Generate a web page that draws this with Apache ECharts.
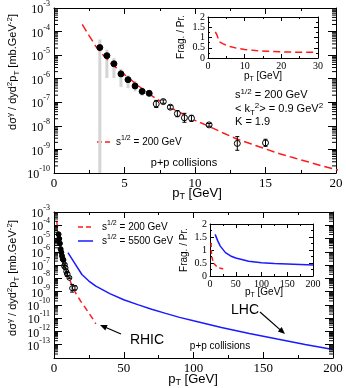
<!DOCTYPE html>
<html>
<head>
<meta charset="utf-8">
<script src="https://cdn.jsdelivr.net/npm/echarts@6/dist/echarts.min.js"></script>
<style>
  html, body { margin: 0; padding: 0; background: #fff; }
  #chart { width: 346px; height: 388px; }
</style>
</head>
<body>
<div id="chart"></div>
<script>
// --- measured p+p photons, sqrt(s) = 200 GeV ---
const dataPt = [3.25, 3.75, 4.25, 4.75, 5.25, 5.75, 6.25, 6.75, 7.25, 7.75, 8.25, 8.75, 9.25, 9.75, 11, 13, 15];
const dataYield = [2.1e-5, 9.5e-6, 4.3e-6, 1.6e-6, 9.1e-7, 4.9e-7, 2.9e-7, 2.4e-7, 8.5e-8, 1.07e-7, 6.2e-8, 3.3e-8, 2.2e-8, 2.1e-8, 1.1e-8, 1.8e-9, 1.9e-9];
const statLow = [null, null, null, null, null, null, null, null, 6.0e-8, 9.1e-8, 5.2e-8, 2.45e-8, 1.42e-8, 1.55e-8, 9.6e-9, 9.2e-10, 1.35e-9];
const statHigh = [null, null, null, null, null, null, null, null, 1.2e-7, 1.26e-7, 7.4e-8, 4.45e-8, 3.4e-8, 2.8e-8, 1.26e-8, 3.5e-9, 2.7e-9];
const sysLow = [1e-11, 1.07e-6, 1.07e-6, 4.5e-7, 4.0e-7, 2.9e-7, 1.9e-7, 1.8e-7];
const sysHigh = [4.6e-5, 1.7e-5, 7.4e-6, 2.6e-6, 1.4e-6, 8.0e-7, 4.2e-7, 3.2e-7];

// --- calculations ---
const rhicPt = [2, 2.5, 3, 3.5, 4, 5, 6, 7, 8, 9, 10, 11, 12, 13, 14, 15, 16, 17, 18, 19, 20, 22, 24, 26, 28, 30];
const rhicYield = [2.0e-4, 6.6e-5, 2.2e-5, 1.0e-5, 4.7e-6, 1.5e-6, 4.9e-7, 1.8e-7, 7.2e-8, 3.5e-8, 1.7e-8, 9.5e-9, 5.0e-9, 2.7e-9, 1.7e-9, 1.05e-9, 6.6e-10, 4.4e-10, 3.0e-10, 2.0e-10, 1.4e-10, 7.1e-11, 3.5e-11, 1.7e-11, 8.3e-12, 3.8e-12];
const lhcPt = [10, 15, 20, 25, 30, 40, 50, 60, 70, 80, 90, 100, 120, 140, 160, 180, 200];
const lhcYield = [8.7e-7, 1.3e-7, 1.95e-8, 6.3e-9, 2.6e-9, 7.1e-10, 2.45e-10, 1.05e-10, 4.7e-11, 2.3e-11, 1.15e-11, 6.3e-12, 2.0e-12, 7.1e-13, 2.7e-13, 1.05e-13, 4.4e-14];

// --- fragmentation / prompt ratio ---
const ratioRhicPt = [2, 2.5, 3, 3.5, 4, 5, 6, 8, 10, 13, 16, 20, 25, 29.5];
const ratioRhic = [1.27, 1.1, 0.8, 0.76, 0.7, 0.62, 0.56, 0.47, 0.42, 0.36, 0.33, 0.3, 0.28, 0.28];
const ratioLhcPt = [10, 15, 20, 30, 40, 50, 75, 100, 125, 150, 175, 200];
const ratioLhc = [1.6, 1.35, 1.15, 0.9, 0.77, 0.69, 0.57, 0.51, 0.48, 0.46, 0.44, 0.42];

const SERIF = 'Liberation Serif, DejaVu Serif, serif';
const SANS = 'Liberation Sans, Arial, sans-serif';
const RED = '#ff1a1a';
const BLUE = '#1a1aff';

const zip = (xs, ys) => xs.map((x, i) => [x, ys[i]]);
const supRich = {
  b: { fontSize: 12, fontFamily: SERIF, color: '#000', verticalAlign: 'bottom', lineHeight: 16 },
  s: { fontSize: 8, fontFamily: SERIF, color: '#000', verticalAlign: 'top', lineHeight: 16 }
};
const txtRich = (size) => ({
  s: { fontSize: Math.round(size * 0.7), fontFamily: SANS, color: '#000', verticalAlign: 'top', lineHeight: size + 4 },
  u: { fontSize: Math.round(size * 0.7), fontFamily: SANS, color: '#000', verticalAlign: 'bottom', lineHeight: size + 4 },
  n: { fontSize: size, fontFamily: SANS, color: '#000', lineHeight: size + 4 }
});

// minor log ticks (2..9 per decade)
function logMinors(lo, hi) {
  const out = [];
  for (let e = lo; e < hi; e++) {
    for (let k = 2; k <= 9; k++) out.push(k * Math.pow(10, e));
  }
  return out;
}

function mainX(grid, min, max, interval, top) {
  return {
    gridIndex: grid, type: 'value', min: min, max: max, interval: interval,
    position: top ? 'top' : 'bottom',
    axisLine: { show: true, onZero: false, lineStyle: { color: '#000', width: 1 } },
    axisTick: { show: true, inside: true, length: 6, lineStyle: { color: '#000' } },
    minorTick: { show: true, splitNumber: 2, length: 3, lineStyle: { color: '#000' } },
    splitLine: { show: false },
    axisLabel: { show: !top, fontFamily: SERIF, fontSize: 13, color: '#000', margin: 4 }
  };
}
function mainY(grid, min, max, right) {
  return {
    gridIndex: grid, type: 'log', logBase: 10, min: min, max: max, interval: 1,
    position: right ? 'right' : 'left',
    axisLine: { show: true, onZero: false, lineStyle: { color: '#000', width: 1 } },
    axisTick: { show: true, inside: true, length: 8, lineStyle: { color: '#000' } },
    splitLine: { show: false },
    axisLabel: {
      show: !right, margin: 4,
      formatter: v => '{b|10}{s|' + Math.round(Math.log10(v)) + '}',
      rich: supRich
    }
  };
}
function insetX(grid, max, interval, top) {
  return {
    gridIndex: grid, type: 'value', min: 0, max: max, interval: interval,
    position: top ? 'top' : 'bottom',
    axisLine: { show: true, onZero: false, lineStyle: { color: '#000', width: 1 } },
    axisTick: { show: true, inside: true, length: 4, lineStyle: { color: '#000' } },
    minorTick: { show: true, splitNumber: 2, length: 2, lineStyle: { color: '#000' } },
    splitLine: { show: false },
    axisLabel: { show: !top, fontFamily: SERIF, fontSize: 10, color: '#000', margin: 3 }
  };
}
function insetY(grid, right) {
  return {
    gridIndex: grid, type: 'value', min: 0, max: 2, interval: 0.5,
    position: right ? 'right' : 'left',
    axisLine: { show: true, onZero: false, lineStyle: { color: '#000', width: 1 } },
    axisTick: { show: true, inside: true, length: 4, lineStyle: { color: '#000' } },
    minorTick: { show: true, splitNumber: 2, length: 2, lineStyle: { color: '#000' } },
    splitLine: { show: false },
    axisLabel: { show: !right, fontFamily: SERIF, fontSize: 10, color: '#000', margin: 3 }
  };
}

function minorTickItem(params, api) {
  const cs = params.coordSys;
  const y = api.coord([api.value(0), api.value(1)])[1];
  const s = { stroke: '#000', lineWidth: 1 };
  return { type: 'group', children: [
    { type: 'line', shape: { x1: cs.x, y1: y, x2: cs.x + 4, y2: y }, style: s },
    { type: 'line', shape: { x1: cs.x + cs.width, y1: y, x2: cs.x + cs.width - 4, y2: y }, style: s }
  ] };
}
function statBarItem(params, api) {
  const lo = api.coord([api.value(0), api.value(1)]);
  const hi = api.coord([api.value(0), api.value(2)]);
  const s = { stroke: '#000', lineWidth: 1 };
  return { type: 'group', children: [
    { type: 'line', shape: { x1: lo[0], y1: lo[1], x2: hi[0], y2: hi[1] }, style: s },
    { type: 'line', shape: { x1: lo[0] - 2, y1: lo[1], x2: lo[0] + 2, y2: lo[1] }, style: s },
    { type: 'line', shape: { x1: hi[0] - 2, y1: hi[1], x2: hi[0] + 2, y2: hi[1] }, style: s }
  ] };
}
function sysBarItem(params, api) {
  const lo = api.coord([api.value(0), api.value(1)]);
  const hi = api.coord([api.value(0), api.value(2)]);
  return { type: 'rect', shape: { x: lo[0] - 1.5, y: hi[1], width: 3, height: lo[1] - hi[1] },
    style: { fill: '#d4d4d4' } };
}

const statData = dataPt.map((x, i) => [x, statLow[i], statHigh[i]]).filter(d => d[1] != null);
const sysData = sysLow.map((lo, i) => [dataPt[i], lo, sysHigh[i]]);
const pointData = dataPt.map((x, i) => ({ value: [x, dataYield[i]], itemStyle: { color: i < 8 ? '#000' : '#fff' } }));

const label200 = '{n|s}{s|1/2}{n| = 200 GeV}';
const label5500 = '{n|s}{s|1/2}{n| = 5500 GeV}';

const chart = echarts.init(document.getElementById('chart'));
chart.setOption({
  animation: false,
  backgroundColor: '#fff',
  grid: [
    { left: 54, top: 6, width: 282, height: 167 },
    { left: 208, top: 17, width: 110, height: 41, show: true, backgroundColor: '#fff', borderWidth: 0 },
    { left: 54, top: 212, width: 279, height: 146 },
    { left: 210, top: 224, width: 103, height: 52, show: true, backgroundColor: '#fff', borderWidth: 0 }
  ],
  xAxis: [
    mainX(0, 0, 20, 5, false), mainX(0, 0, 20, 5, true),
    insetX(1, 30, 10, false), insetX(1, 30, 10, true),
    mainX(2, 0, 200, 50, false), mainX(2, 0, 200, 50, true),
    insetX(3, 200, 50, false), insetX(3, 200, 50, true)
  ],
  yAxis: [
    mainY(0, 1e-10, 1e-3, false), mainY(0, 1e-10, 1e-3, true),
    insetY(1, false), insetY(1, true),
    mainY(2, 1e-14, 1e-3, false), mainY(2, 1e-14, 1e-3, true),
    insetY(3, false), insetY(3, true)
  ],
  series: [
    { type: 'custom', xAxisIndex: 0, yAxisIndex: 0, renderItem: sysBarItem, data: sysData,
      encode: { x: 0, y: [1, 2] }, clip: true, silent: true, z: 1 },
    { name: 'rhic', type: 'line', xAxisIndex: 0, yAxisIndex: 0, data: zip(rhicPt, rhicYield),
      symbol: 'none', lineStyle: { color: RED, width: 1.5, type: [8, 4] }, z: 2 },
    { type: 'scatter', xAxisIndex: 0, yAxisIndex: 0, data: pointData, symbolSize: 6,
      itemStyle: { borderColor: '#000', borderWidth: 1, opacity: 1 }, z: 3 },
    { type: 'custom', xAxisIndex: 0, yAxisIndex: 0, renderItem: statBarItem, data: statData,
      encode: { x: 0, y: [1, 2] }, silent: true, z: 4 },
    { type: 'custom', xAxisIndex: 0, yAxisIndex: 0, renderItem: minorTickItem,
      data: logMinors(-10, -3).map(v => [0, v]), silent: true, z: 5 },

    { name: 'ratioRhic', type: 'line', xAxisIndex: 2, yAxisIndex: 2, data: zip(ratioRhicPt, ratioRhic),
      symbol: 'none', lineStyle: { color: RED, width: 1.5, type: [7, 4] }, z: 6 },

    { name: 'rhic', type: 'line', xAxisIndex: 4, yAxisIndex: 4, data: zip(rhicPt, rhicYield),
      symbol: 'none', lineStyle: { color: RED, width: 1.5, type: [6, 4] }, z: 2 },
    { name: 'lhc', type: 'line', xAxisIndex: 4, yAxisIndex: 4, data: zip(lhcPt, lhcYield),
      symbol: 'none', lineStyle: { color: BLUE, width: 1.5 }, z: 2 },
    { type: 'scatter', xAxisIndex: 4, yAxisIndex: 4, data: pointData, symbolSize: 5,
      itemStyle: { borderColor: '#000', borderWidth: 1, opacity: 1 }, z: 3 },
    { type: 'custom', xAxisIndex: 4, yAxisIndex: 4, renderItem: statBarItem, data: statData,
      encode: { x: 0, y: [1, 2] }, silent: true, z: 4 },
    { type: 'custom', xAxisIndex: 4, yAxisIndex: 4, renderItem: minorTickItem,
      data: logMinors(-14, -3).map(v => [0, v]), silent: true, z: 5 },

    { name: 'ratioRhic', type: 'line', xAxisIndex: 6, yAxisIndex: 6, data: zip(ratioRhicPt, ratioRhic),
      symbol: 'none', lineStyle: { color: RED, width: 1.5, type: [4, 3] }, z: 6 },
    { name: 'ratioLhc', type: 'line', xAxisIndex: 6, yAxisIndex: 6, data: zip(ratioLhcPt, ratioLhc),
      symbol: 'none', lineStyle: { color: BLUE, width: 1.5 }, z: 6 }
  ],
  graphic: [
    // legends
    { type: 'rect', shape: { x: 94, y: 131, width: 84, height: 21 }, style: { fill: '#fff' } },
    { type: 'line', shape: { x1: 97, y1: 142, x2: 111, y2: 142 }, style: { stroke: RED, lineWidth: 1.5, lineDash: [5, 3] } },
    { type: 'text', x: 116, y: 142,
      style: { text: label200, rich: txtRich(10), align: 'left', verticalAlign: 'middle' } },
    { type: 'line', shape: { x1: 78, y1: 227, x2: 93, y2: 227 }, style: { stroke: RED, lineWidth: 1.5, lineDash: [5, 3] } },
    { type: 'text', x: 102, y: 227,
      style: { text: label200, rich: txtRich(10), align: 'left', verticalAlign: 'middle' } },
    { type: 'line', shape: { x1: 78, y1: 241, x2: 93, y2: 241 }, style: { stroke: BLUE, lineWidth: 1.5 } },
    { type: 'text', x: 102, y: 241,
      style: { text: label5500, rich: txtRich(10), align: 'left', verticalAlign: 'middle' } },
    // y titles
    { type: 'text', x: 13, y: 72, rotation: Math.PI / 2,
      style: { text: '{n|d\u03c3}{s|\u03b3}{n| / dyd}{s|2}{n|p}{u|T}{n| [mb.GeV}{s|-2}{n|]}', rich: txtRich(11),
        align: 'center', verticalAlign: 'middle' } },
    { type: 'text', x: 13, y: 278, rotation: Math.PI / 2,
      style: { text: '{n|d\u03c3}{s|\u03b3}{n| / dyd}{s|2}{n|p}{u|T}{n| [mb.GeV}{s|-2}{n|]}', rich: txtRich(11),
        align: 'center', verticalAlign: 'middle' } },
    // x titles
    { type: 'text', x: 197, y: 193,
      style: { text: '{n|p}{u|T}{n| [GeV]}', rich: txtRich(13), align: 'center', verticalAlign: 'middle' } },
    { type: 'text', x: 193, y: 379,
      style: { text: '{n|p}{u|T}{n| [GeV]}', rich: txtRich(13), align: 'center', verticalAlign: 'middle' } },
    // inset titles
    { type: 'text', x: 181, y: 37, rotation: Math.PI / 2,
      style: { text: '{n|Frag. / Pr.}', rich: txtRich(10), align: 'center', verticalAlign: 'middle' } },
    { type: 'text', x: 263, y: 76,
      style: { text: '{n|p}{u|T}{n| [GeV]}', rich: txtRich(10), align: 'center', verticalAlign: 'middle' } },
    { type: 'text', x: 184, y: 250, rotation: Math.PI / 2,
      style: { text: '{n|Frag. / Pr.}', rich: txtRich(10), align: 'center', verticalAlign: 'middle' } },
    { type: 'text', x: 264, y: 292,
      style: { text: '{n|p}{u|T}{n| [GeV]}', rich: txtRich(10), align: 'center', verticalAlign: 'middle' } },
    // annotations top
    { type: 'text', x: 235, y: 95,
      style: { text: '{n|s}{s|1/2}{n| = 200 GeV}', rich: txtRich(11), align: 'left', verticalAlign: 'middle' } },
    { type: 'text', x: 235, y: 109,
      style: { text: '{n|< k}{u|T}{s|2}{n|> = 0.9 GeV}{s|2}', rich: txtRich(11), align: 'left', verticalAlign: 'middle' } },
    { type: 'text', x: 235, y: 122,
      style: { text: '{n|K = 1.9}', rich: txtRich(11), align: 'left', verticalAlign: 'middle' } },
    { type: 'text', x: 184, y: 163,
      style: { text: '{n|p+p collisions}', rich: txtRich(11), align: 'center', verticalAlign: 'middle' } },
    // annotations bottom
    { type: 'text', x: 220, y: 346,
      style: { text: '{n|p+p collisions}', rich: txtRich(10), align: 'center', verticalAlign: 'middle' } },
    { type: 'text', x: 147, y: 340,
      style: { text: '{n|RHIC}', rich: txtRich(14), align: 'center', verticalAlign: 'middle' } },
    { type: 'text', x: 245, y: 310,
      style: { text: '{n|LHC}', rich: txtRich(14), align: 'center', verticalAlign: 'middle' } },
    { type: 'line', shape: { x1: 121, y1: 334, x2: 103, y2: 326.3 }, style: { stroke: '#000', lineWidth: 1.2 } },
    { type: 'polygon', shape: { points: [[100, 325], [107.6, 325.0], [105.3, 330.5]] }, style: { fill: '#000' } },
    { type: 'line', shape: { x1: 260, y1: 312, x2: 282, y2: 331.4 }, style: { stroke: '#000', lineWidth: 1.2 } },
    { type: 'polygon', shape: { points: [[285, 334], [277.8, 331.6], [281.7, 327.1]] }, style: { fill: '#000' } }
  ]
});
</script>
</body>
</html>
